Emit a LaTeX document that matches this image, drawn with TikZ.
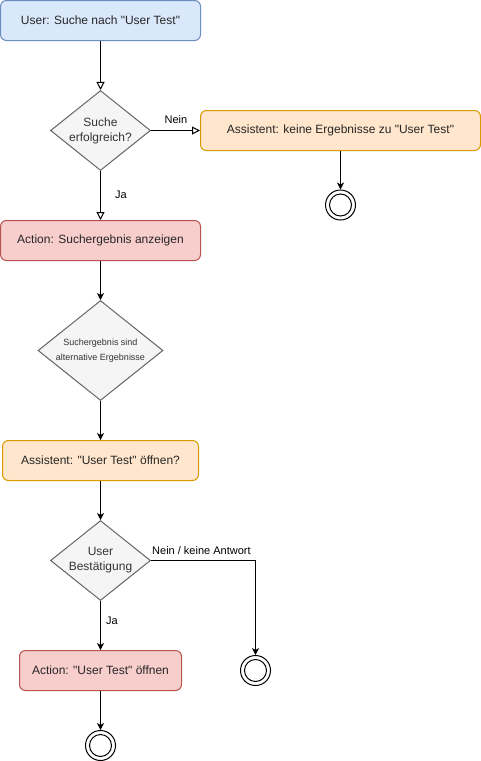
\documentclass[tikz,border=0pt]{standalone}
\usepackage{fontspec}
\setmainfont{Liberation Sans}[Ligatures=TeXOff]
\usetikzlibrary{shapes.geometric,arrows.meta}
\definecolor{bluefill}{HTML}{DAE8FC}
\definecolor{bluedraw}{HTML}{6C8EBF}
\definecolor{orangefill}{HTML}{FFE6CC}
\definecolor{orangedraw}{HTML}{D79B00}
\definecolor{redfill}{HTML}{F8CECC}
\definecolor{reddraw}{HTML}{B85450}
\definecolor{grayfill}{HTML}{F5F5F5}
\definecolor{graydraw}{HTML}{666666}
\definecolor{graytext}{HTML}{333333}
\tikzset{
  box/.style={rectangle, rounded corners=6pt, draw, line width=1pt, minimum height=40pt, inner sep=0pt, font=\fontsize{12}{15}\selectfont, text=black!85},
  bluebox/.style={box, fill=bluefill, draw=bluedraw},
  orangebox/.style={box, fill=orangefill, draw=orangedraw},
  redbox/.style={box, fill=redfill, draw=reddraw},
  decision/.style={diamond, draw=graydraw, fill=grayfill, line width=1pt, inner sep=0pt},
  dtext/.style={align=center, text=graytext, inner sep=0pt, font=\fontsize{12}{15}\selectfont},
  endnode/.style={circle, draw, line width=1pt, minimum size=30pt, inner sep=0pt,
    path picture={\draw[line width=1pt] (path picture bounding box.center) circle (11pt);}},
  openarrow/.style={draw, line width=1pt, -{Triangle[open, length=8pt, width=8pt]}},
  fillarrow/.style={draw, line width=1pt, -{Stealth[length=7pt, width=7pt, inset=2pt]}},
  elabel/.style={font=\fontsize{11}{13}\selectfont, text=black, inner sep=0pt}
}
\begin{document}
\begin{tikzpicture}[x=1pt, y=-1pt]
\useasboundingbox (0,0) rectangle (481,761);
\node[bluebox, minimum width=200pt] (u1) at (100.5,20.5) {User: Suche nach "User Test"};
\node[decision, minimum width=100pt, minimum height=80pt] (d1) at (100.5,130.5) {};
\node[dtext] (t1) at (d1.center) {Suche\\erfolgreich?};
\node[orangebox, minimum width=280pt] (a1) at (340.5,130.5) {Assistent: keine Ergebnisse zu "User Test"};
\node[endnode] (e1) at (340.5,205) {};
\node[redbox, minimum width=200pt] (r1) at (100.5,240.5) {Action: Suchergebnis anzeigen};
\node[decision, minimum width=125pt, minimum height=100pt] (d2) at (100.5,350.5) {};
\node[dtext, font=\fontsize{9}{15}\selectfont] (t2) at (d2.center) {Suchergebnis sind\\alternative Ergebnisse};
\node[orangebox, minimum width=196pt] (a2) at (100.5,460.5) {Assistent: "User Test" öffnen?};
\node[decision, minimum width=100pt, minimum height=80pt] (d3) at (100.5,560.5) {};
\node[dtext] (t3) at (d3.center) {User\\Bestätigung};
\node[redbox, minimum width=162pt] (r2) at (100.5,670.5) {Action: "User Test" öffnen};
\node[endnode] (e2) at (255.5,670.5) {};
\node[endnode] (e3) at (100.5,745.5) {};

\path[openarrow] (u1) -- (d1);
\path[openarrow] (d1) -- (a1);
\path[openarrow] (d1) -- (r1);
\path[fillarrow] (a1) -- (e1);
\path[fillarrow] (r1) -- (d2);
\path[fillarrow] (d2) -- (a2);
\path[fillarrow] (a2) -- (d3);
\path[fillarrow] (d3) -- (r2);
\path[fillarrow] (d3.east) -| (e2.north);
\path[fillarrow] (r2) -- (e3);

\node[elabel] (l1) at (176,120) {Nein};
\node[elabel] (l2) at (121,195) {Ja};
\node[elabel, anchor=west] (l3) at (152,551) {Nein / keine Antwort};
\node[elabel] (l4) at (112,621) {Ja};
\end{tikzpicture}
\end{document}
